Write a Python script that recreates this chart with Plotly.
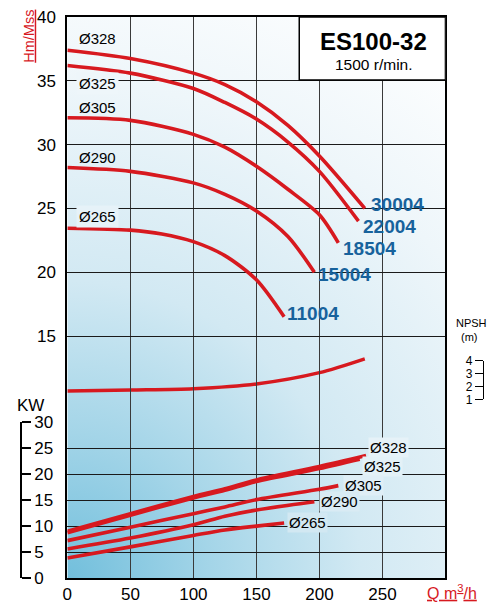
import base64
import plotly.graph_objects as go

# ---------------- data ----------------
head_q = {
    "328": [0, 50, 100, 125, 150, 175, 200, 236],
    "325": [0, 50, 100, 125, 150, 175, 200, 231],
    "305": [0, 50, 100, 125, 150, 175, 200, 215],
    "290": [0, 50, 100, 125, 150, 175, 196],
    "265": [0, 50, 75, 100, 125, 150, 172],
}
head_h = {
    "328": [37.4, 36.75, 35.6, 34.7, 33.35, 31.5, 29.1, 25.0],
    "325": [36.2, 35.6, 34.4, 33.3, 32.0, 30.2, 27.9, 24.0],
    "305": [32.1, 31.9, 30.8, 29.8, 28.3, 26.5, 24.5, 22.3],
    "290": [28.2, 27.9, 27.0, 26.1, 24.8, 22.8, 20.0],
    "265": [23.45, 23.3, 23.0, 22.4, 21.3, 19.4, 16.5],
}
model_labels = ["30004", "22004", "18504", "15004", "11004"]
diam_labels = ["Ø328", "Ø325", "Ø305", "Ø290", "Ø265"]

power_q = {
    "328": [0, 50, 100, 125, 150, 200, 237],
    "325": [0, 50, 100, 125, 150, 200, 232],
    "305": [0, 50, 100, 125, 150, 200, 215],
    "290": [0, 50, 100, 125, 150, 196],
    "265": [0, 50, 100, 125, 150, 172],
}
power_kw = {
    "328": [9.0, 12.4, 15.7, 17.2, 18.9, 21.5, 23.6],
    "325": [8.7, 12.1, 15.4, 16.9, 18.6, 21.1, 22.9],
    "305": [7.2, 9.8, 12.4, 13.7, 15.1, 17.1, 17.8],
    "290": [5.6, 7.7, 10.25, 11.9, 13.1, 14.7],
    "265": [3.85, 6.0, 8.2, 9.25, 10.0, 10.6],
}
npsh_q = [0, 50, 100, 150, 200, 236]
npsh_m = [1.64, 1.72, 1.82, 2.19, 3.07, 4.15]

x_ticks = [0, 50, 100, 150, 200, 250]
h_ticks = [15, 20, 25, 30, 35, 40]
kw_ticks = [0, 5, 10, 15, 20, 25, 30]
npsh_ticks = [1, 2, 3, 4]

# ---------------- style ----------------
RED = "#d7191f"
BLUE = "#17629c"
ARIAL = "Arial, Liberation Sans, sans-serif"
W, H = 489, 605
L_PX, R_PX, T_PX, B_PX = 63, 445, 17, 578

fig = go.Figure()

keys = ["328", "325", "305", "290", "265"]
for k in keys:
    fig.add_trace(go.Scatter(x=head_q[k], y=head_h[k], mode="lines",
                             line=dict(color=RED, width=3.6, shape="spline", smoothing=0.8),
                             xaxis="x", yaxis="y", hoverinfo="skip", showlegend=False))
for k in keys:
    fig.add_trace(go.Scatter(x=power_q[k], y=power_kw[k], mode="lines",
                             line=dict(color=RED, width=3.6, shape="spline", smoothing=0.8),
                             xaxis="x", yaxis="y2", hoverinfo="skip", showlegend=False))
fig.add_trace(go.Scatter(x=npsh_q, y=npsh_m, mode="lines",
                         line=dict(color=RED, width=3.4, shape="spline", smoothing=0.8),
                         xaxis="x", yaxis="y4", hoverinfo="skip", showlegend=False))
# empty trace so the NPSH bracket axis is drawn
fig.add_trace(go.Scatter(x=[None], y=[None], xaxis="x", yaxis="y3", showlegend=False,
                         hoverinfo="skip"))

# gradient background
svg = ('<svg xmlns="http://www.w3.org/2000/svg" width="382" height="561" viewBox="0 0 382 561" '
       'preserveAspectRatio="none"><defs><radialGradient id="g" cx="0" cy="561" r="660" '
       'gradientUnits="userSpaceOnUse"><stop offset="0" stop-color="#72bfdc"/>'
       '<stop offset="0.22" stop-color="#a4d5e8"/><stop offset="0.45" stop-color="#d2e9f3"/>'
       '<stop offset="0.75" stop-color="#eef6fa"/>'
       '<stop offset="1" stop-color="#ffffff"/></radialGradient></defs>'
       '<rect width="382" height="561" fill="url(#g)"/></svg>')
src = "data:image/svg+xml;base64," + base64.b64encode(svg.encode()).decode()

xdom = [L_PX / W, R_PX / W]
PH = B_PX - T_PX
px_per_h = 12.76
h_bottom = 40 - PH / px_per_h
kw_top_frac = (B_PX - 422.3) / PH
n1, n4 = 399.3, 360.7
npx = (n1 - n4) / 3
n_dom = [(B_PX - n1) / PH, (B_PX - n4) / PH]
n_range = [1 - (B_PX - n1) / npx, 1 + (n1 - T_PX) / npx]


def py(px):
    return (B_PX - px) / PH


fig.update_layout(
    width=W, height=H,
    margin=dict(l=0, r=0, t=T_PX, b=H - B_PX),
    paper_bgcolor="white", plot_bgcolor="rgba(0,0,0,0)",
    showlegend=False,
    images=[dict(source=src, xref="paper", yref="paper", x=xdom[0], y=1,
                 sizex=xdom[1] - xdom[0], sizey=1, xanchor="left", yanchor="top",
                 sizing="stretch", layer="below")],
    xaxis=dict(domain=xdom, range=[0, 300], tickvals=x_ticks, showgrid=True,
               gridcolor="#3a3a3a", gridwidth=1.2, zeroline=False, showline=True,
               linecolor="black", linewidth=2, mirror=True, ticks="",
               tickfont=dict(family=ARIAL, size=17, color="black"), anchor="y"),
    yaxis=dict(domain=[0, 1], range=[h_bottom, 40], tickvals=h_ticks, showgrid=True,
               gridcolor="#1a1a1a", gridwidth=1, zeroline=False, showline=True,
               linecolor="black", linewidth=2, mirror=True, ticks="",
               ticklabelstandoff=6,
               tickfont=dict(family=ARIAL, size=17, color="black"), anchor="x"),
    yaxis2=dict(domain=[0, kw_top_frac], range=[0, 30], tickvals=kw_ticks, showgrid=True,
                gridcolor="#1a1a1a", gridwidth=1, zeroline=False, showline=True,
                linecolor="black", linewidth=2.2, ticks="outside", ticklen=9, tickwidth=2,
                tickcolor="black", side="right", anchor="free", position=16 / W,
                tickfont=dict(family=ARIAL, size=17, color="black")),
    yaxis3=dict(domain=n_dom, range=[1, 4], tickvals=npsh_ticks, showgrid=False,
                zeroline=False, showline=True, linecolor="black", linewidth=1.4,
                ticks="outside", ticklen=8, tickwidth=1.4, tickcolor="black",
                side="left", anchor="free", position=483 / W,
                tickfont=dict(family=ARIAL, size=12, color="black")),
    yaxis4=dict(overlaying="y", range=n_range, visible=False),
)

# title box
fig.add_shape(type="rect", xref="x", yref="y", x0=184, x1=300, y0=35.06, y1=40,
              fillcolor="white", line=dict(color="black", width=1.5), layer="above")

ann = []
ann.append(dict(x=243, y=38.06, xref="x", yref="y", text="<b>ES100-32</b>", showarrow=False,
                font=dict(family=ARIAL, size=24, color="black")))
ann.append(dict(x=243, y=36.3, xref="x", yref="y", text="1500 r/min.", showarrow=False,
                font=dict(family=ARIAL, size=15.5, color="black")))

# model labels (blue)
model_pos = [(262, 25.27), (255.8, 23.58), (240, 21.86), (220, 19.82), (195.2, 16.76)]
for t, (x, y) in zip(model_labels, model_pos):
    ann.append(dict(x=x, y=y, xref="x", yref="y", text="<b>" + t + "</b>", showarrow=False,
                    font=dict(family=ARIAL, size=19, color=BLUE)))

# diameter labels on head curves
hd_pos = [38.3, 34.8, 32.9, 29.0, 24.35]
hd_bg = ["rgba(0,0,0,0)", "#eef6fa", "rgba(0,0,0,0)", "rgba(0,0,0,0)", "#e6f2f8"]
for t, y, bg in zip(diam_labels, hd_pos, hd_bg):
    ann.append(dict(x=23.6, y=y, xref="x", yref="y", text=t, showarrow=False,
                    bgcolor=bg, borderpad=2,
                    font=dict(family=ARIAL, size=15, color="black")))

# diameter labels on power curves
pd_pos = [(254.6, 25.2), (249.9, 21.5), (234.9, 17.8), (216, 14.7), (190.4, 10.6)]
pd_bg = ["#e6f2f8", "#e3f1f7", "#dfeef6", "#d9ebf4", "#d2e8f2"]
for t, (x, y), bg in zip(diam_labels, pd_pos, pd_bg):
    ann.append(dict(x=x, y=y, xref="x", yref="y2", text=t, showarrow=False,
                    bgcolor=bg, borderpad=1,
                    font=dict(family=ARIAL, size=15, color="black")))

# axis titles / side texts
side_texts = [
    (24, 36, '<span style="text-decoration:underline">Hm/Mss</span>', 14.5, RED, -90),
    (26, 405, "KW", 17, "black", 0),
    (452, 592, '<span style="text-decoration:underline">Q m<sup>3</sup>/h</span>', 16, RED, 0),
    (471, 323, "NPSH", 11, "black", 0),
    (469, 336.5, "(m)", 11, "black", 0),
]
for xp, ypx, t, sz, col, ang in side_texts:
    ann.append(dict(x=xp / W, y=py(ypx), xref="paper", yref="paper", text=t,
                    xanchor="center", yanchor="middle", textangle=ang, showarrow=False,
                    font=dict(family=ARIAL, size=sz, color=col)))

fig.update_layout(annotations=ann)
fig.write_html("out.html", config={"displayModeBar": False},
               post_script="document.body.style.margin='0';")
